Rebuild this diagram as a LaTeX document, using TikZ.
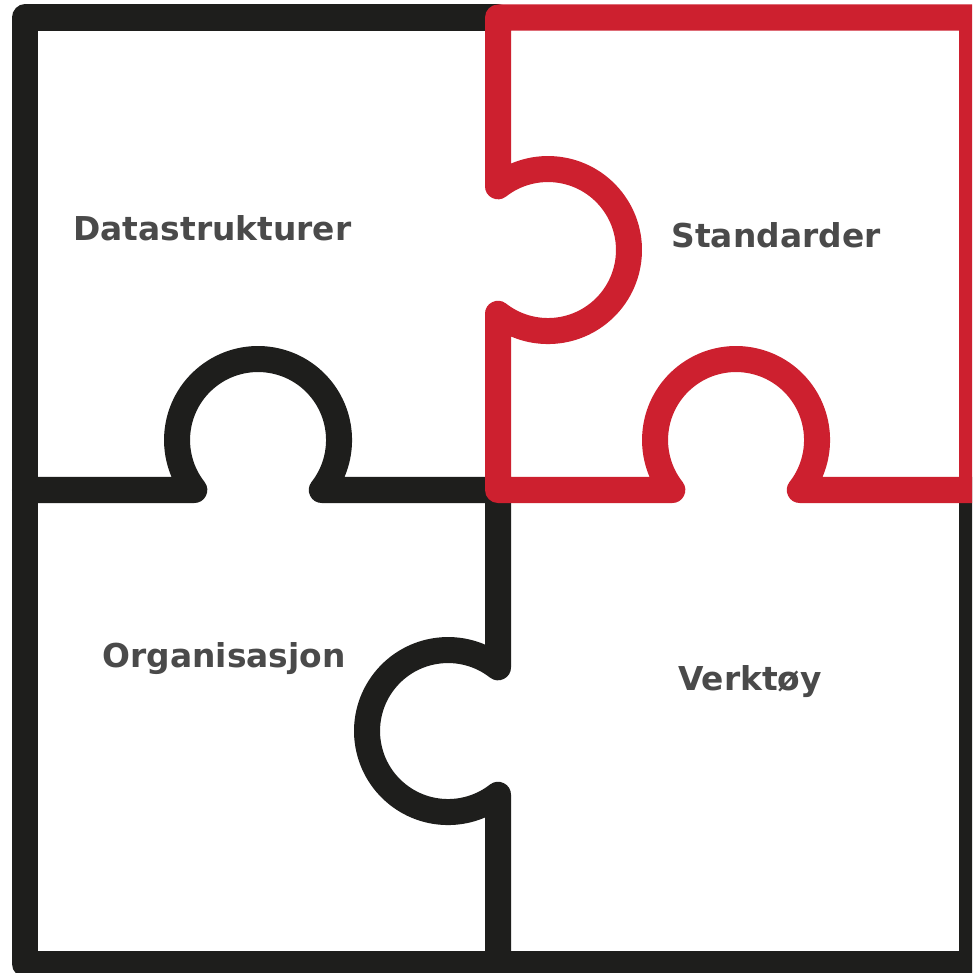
\documentclass[tikz,border=0pt]{standalone}
\usepackage{fontspec}
\setmainfont{DejaVu Sans}
\definecolor{piece}{HTML}{1E1E1C}
\definecolor{pinned}{HTML}{CD202F}
\definecolor{label}{HTML}{4A4A4A}
\tikzset{
  edge/.style={line width=0.26cm,line join=round,line cap=round},
  word/.style={anchor=base,text=label,font=\fontsize{9.35}{11}\selectfont\bfseries}
}
\begin{document}
\begin{tikzpicture}[x=0.01cm,y=-0.01cm]
            \def\r{81} % knob radius
            \def\h{63.7}
            \useasboundingbox (0,0) rectangle (972,973);
            \clip (0,0) rectangle (972,973);
            %\draw[gray,dash pattern=on 1pt off 1pt,step=100] (0,0) grid (972,973);
            \fill[white] (0,0) rectangle (972,973);
            % black pieces
            \draw[edge,piece] (498,17.5) -- (25,17.5) -- (25,964) -- (972,964) -- (972,490);
            \draw[edge,piece] (25,490) -- (258-\h,490) arc[start angle=141.9,end angle=398.1,radius=\r] -- (498,490);
            \draw[edge,piece] (498,490) -- (498,731-\h) arc[start angle=-51.9,end angle=-308.1,radius=\r] -- (498,964);
            % red piece
            \draw[edge,pinned] (498,17.5) -- (498,250-\h) arc[start angle=231.9,end angle=488.1,radius=\r]
                -- (498,490) -- (736-\h,490) arc[start angle=141.9,end angle=398.1,radius=\r]
                -- (972,490) -- (972,17.5) -- cycle;
            \node[word] (data) at (212.5,240) {Datastrukturer};
            \node[word] (std) at (776,247) {Standarder};
            \node[word] (org) at (224,667) {Organisasjon};
            \node[word] (tool) at (750,690) {Verktøy};
\end{tikzpicture}
\end{document}
